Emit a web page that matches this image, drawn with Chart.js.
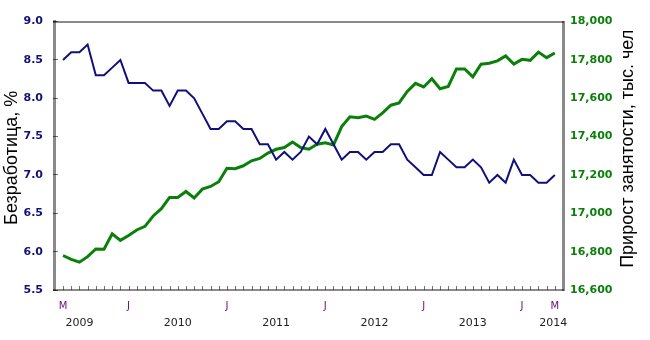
<!DOCTYPE html>
<html>
<head>
<meta charset="utf-8">
<script src="https://cdn.jsdelivr.net/npm/chart.js@4/dist/chart.umd.min.js"></script>
<style>
  html, body { margin: 0; padding: 0; background: #fff; }
  #wrap { width: 650px; height: 340px; position: relative; }
</style>
</head>
<body>
<div id="wrap"><canvas id="chart"></canvas></div>
<script>
// Безработица и занятость, май 2009 – май 2014 (помесячно)

// индекс 0 = май 2009
const unemployment = [
    8.5, 8.6, 8.6, 8.7, 8.3, 8.3, 8.4, 8.5,
    8.2, 8.2, 8.2, 8.1, 8.1, 7.9, 8.1, 8.1, 8.0, 7.8, 7.6, 7.6,
    7.7, 7.7, 7.6, 7.6, 7.4, 7.4, 7.2, 7.3, 7.2, 7.3, 7.5, 7.4,
    7.6, 7.4, 7.2, 7.3, 7.3, 7.2, 7.3, 7.3, 7.4, 7.4, 7.2, 7.1,
    7.0, 7.0, 7.3, 7.2, 7.1, 7.1, 7.2, 7.1, 6.9, 7.0, 6.9, 7.2,
    7.0, 7.0, 6.9, 6.9, 7.0
];

const employment = [
    16780, 16760, 16745, 16774, 16814, 16813, 16893, 16859,
    16884, 16913, 16932, 16986, 17024, 17083, 17083, 17114, 17080, 17126, 17140, 17165,
    17235, 17233, 17248, 17274, 17286, 17314, 17334, 17343, 17372, 17343, 17334, 17360,
    17368, 17357, 17452, 17503, 17498, 17507, 17490, 17524, 17564, 17576, 17636, 17678,
    17659, 17702, 17650, 17662, 17753, 17753, 17712, 17778, 17783, 17795, 17821, 17778,
    17803, 17798, 17841, 17812, 17836
];

// подписи месяцев на оси X (индекс -> буква)
const monthTickIdx = [0, 8, 20, 32, 44, 56, 60];
const monthTickText = ['M', 'J', 'J', 'J', 'J', 'J', 'M'];

// подписи годов (середина года, последний прижат к краю)
const yearTickIdx = [2, 14, 26, 38, 50, 59.8];
const yearTickText = ['2009', '2010', '2011', '2012', '2013', '2014'];

const leftTicks = [5.5, 6.0, 6.5, 7.0, 7.5, 8.0, 8.5, 9.0];
const rightTicks = [16600, 16800, 17000, 17200, 17400, 17600, 17800, 18000];

const leftTitle = 'Безработица, %';
const rightTitle = 'Прирост занятости, тыс. чел';

const NAVY = '#10107a';
const GREEN = '#0a800a';
const FRAME = 'rgba(0, 0, 0, 0.46)';
const TICK = 'rgba(0, 0, 0, 0.55)';

const tickFont = { family: 'DejaVu Sans', size: 11, weight: 'bold' };

// рамка, засечки по месяцам и заголовки осей
const framePlugin = {
    id: 'frame',
    afterDraw(chart) {
        const c = chart.ctx;
        const a = chart.chartArea;
        const xs = chart.scales.x;
        const L = Math.round(a.left), R = Math.round(a.right);
        const T = Math.round(a.top), B = Math.round(a.bottom);
        c.save();

        c.fillStyle = TICK;
        for (let i = 0; i < unemployment.length; i++) {
            const px = Math.round(xs.getPixelForValue(i));
            c.fillRect(px, B - 4, 1, 4);
        }

        c.fillStyle = FRAME;
        c.fillRect(L - 1, T - 1, R - L + 2, 2);   // верх
        c.fillRect(L - 1, B - 1, R - L + 2, 2);   // низ
        c.fillRect(R - 1, T - 1, 3, B - T + 2);   // справа

        const midY = (a.top + a.bottom) / 2;
        c.fillStyle = '#000';
        c.font = '18px "Liberation Sans", Arial, sans-serif';
        c.textAlign = 'center';
        c.textBaseline = 'middle';

        c.save();
        c.translate(12, midY + 2);
        c.rotate(-Math.PI / 2);
        c.fillText(leftTitle, 0, 0);
        c.restore();

        c.save();
        c.translate(628, midY - 7);
        c.rotate(-Math.PI / 2);
        c.fillText(rightTitle, 0, 0);
        c.restore();

        c.restore();
    }
};

const ctx = document.getElementById('chart').getContext('2d');
const chart = new Chart(ctx, {
    type: 'line',
    data: {
        datasets: [{
            label: leftTitle,
            data: unemployment.map((v, i) => ({ x: i, y: v })),
            borderColor: NAVY,
            borderWidth: 2,
            pointRadius: 0,
            tension: 0,
            yAxisID: 'y'
        }, {
            label: rightTitle,
            data: employment.map((v, i) => ({ x: i, y: v })),
            borderColor: GREEN,
            borderWidth: 3,
            pointRadius: 0,
            tension: 0,
            yAxisID: 'y1'
        }]
    },
    options: {
        responsive: true,
        maintainAspectRatio: false,
        animation: false,
        layout: { padding: { top: 18, left: 0, right: 0, bottom: 0 } },
        plugins: {
            legend: { display: false },
            tooltip: { enabled: false }
        },
        scales: {
            x: {
                type: 'linear',
                position: 'bottom',
                min: -1.1,
                max: 61,
                afterBuildTicks: s => { s.ticks = monthTickIdx.map(v => ({ value: v })); },
                afterFit: s => { s.height = 22; },
                grid: { display: false, drawTicks: false },
                border: { display: false },
                ticks: {
                    autoSkip: false,
                    maxRotation: 0,
                    padding: 10,
                    color: '#6a0a78',
                    font: { family: 'DejaVu Sans', size: 10 },
                    callback: v => monthTickText[monthTickIdx.indexOf(v)] || ''
                }
            },
            x2: {
                type: 'linear',
                position: 'bottom',
                min: -1.1,
                max: 61,
                afterBuildTicks: s => { s.ticks = yearTickIdx.map(v => ({ value: v })); },
                afterFit: s => { s.height = 28; },
                grid: { display: false, drawTicks: false },
                border: { display: false },
                ticks: {
                    autoSkip: false,
                    maxRotation: 0,
                    padding: 5,
                    color: '#222',
                    font: { family: 'DejaVu Sans', size: 11 },
                    callback: v => yearTickText[yearTickIdx.indexOf(v)] || ''
                }
            },
            y: {
                position: 'left',
                min: 5.5,
                max: 9.0,
                afterBuildTicks: s => { s.ticks = leftTicks.map(v => ({ value: v })); },
                afterFit: s => { s.width = 54; },
                grid: {
                    display: true,
                    drawOnChartArea: false,
                    drawTicks: true,
                    tickLength: -4,
                    color: TICK,
                    lineWidth: 1
                },
                border: { display: true, color: FRAME, width: 3 },
                ticks: {
                    padding: 15,
                    color: NAVY,
                    font: tickFont,
                    callback: v => v.toFixed(1)
                }
            },
            y1: {
                position: 'right',
                min: 16600,
                max: 18000,
                afterBuildTicks: s => { s.ticks = rightTicks.map(v => ({ value: v })); },
                afterFit: s => { s.width = 87; },
                grid: { display: false, drawTicks: false },
                border: { display: false },
                ticks: {
                    padding: 7,
                    color: GREEN,
                    font: tickFont,
                    callback: v => v.toLocaleString('en-US')
                }
            }
        }
    },
    plugins: [framePlugin]
});
</script>
</body>
</html>
